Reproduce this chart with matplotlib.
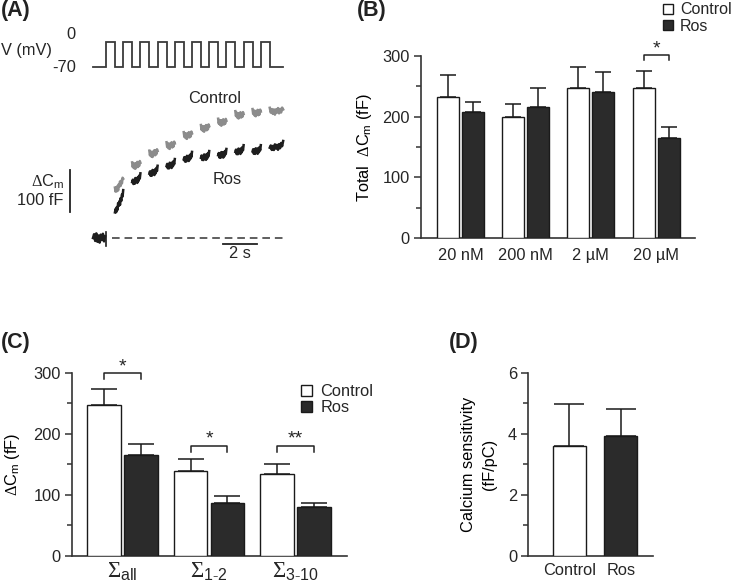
import numpy as np
import matplotlib
matplotlib.use("Agg")
import matplotlib.pyplot as plt
from matplotlib.patches import Patch

plt.rcParams['font.family'] = ['Liberation Sans', 'DejaVu Sans']
plt.rcParams['mathtext.fontset'] = 'custom'
plt.rcParams['mathtext.rm'] = 'Liberation Serif'
plt.rcParams['mathtext.it'] = 'Liberation Serif:italic'
plt.rcParams['mathtext.bf'] = 'Liberation Serif:bold'
plt.rcParams['mathtext.sf'] = 'Liberation Sans'
TXT = '#262626'
plt.rcParams['text.color'] = TXT
plt.rcParams['axes.edgecolor'] = '#333333'
plt.rcParams['xtick.color'] = '#333333'
plt.rcParams['ytick.color'] = '#333333'
plt.rcParams['xtick.labelcolor'] = TXT
plt.rcParams['ytick.labelcolor'] = TXT

# ---------------- data ----------------
# Panel A: example traces
pulse_rise = [0, 1, 2, 3, 4, 5, 6, 7, 8, 9]          # s
pulse_width = 0.52                                   # s
v_rest, v_step = -70, 0                              # mV
ctrl_start = [108, 168, 196, 216, 240, 257, 272, 290, 295, 298]   # fF
ctrl_end = [140, 178, 206, 224, 248, 265, 278, 294, 300, 305]
ros_start = [60, 132, 152, 170, 186, 190, 196, 204, 205, 214]
ros_end = [102, 142, 160, 176, 193, 195, 200, 209, 209, 219]
seg_wiggle = [12, 0, 8, -4, 6, -7, 5, -3, 7, -6, 4, -5, 6, 1]
pre_v = [0, 9, -7, 11, -9, 6, -11, 8, -5, 10, -8, 4]

# Panel B
conc = ['20 nM', '200 nM', '2 µM', '20 µM']
b_ctrl = [233, 199, 248, 248]
b_ctrl_err = [36, 22, 34, 27]
b_ros = [208, 216, 241, 165]
b_ros_err = [16, 32, 32, 18]

# Panel C
c_labels = [r'$\Sigma_{\mathsf{all}}$', r'$\Sigma_{\mathsf{1\text{-}2}}$', r'$\Sigma_{\mathsf{3\text{-}10}}$']
c_ctrl = [247, 139, 134]
c_ctrl_err = [26, 20, 17]
c_ros = [165, 87, 80]
c_ros_err = [18, 11, 7]

# Panel D
d_labels = ['Control', 'Ros']
d_vals = [3.6, 3.94]
d_err = [1.36, 0.88]

# ---------------- figure ----------------
W, H = 733, 588
fig = plt.figure(figsize=(W / 100, H / 100), dpi=100)


def ax_px(x0, y0, x1, y1):
    return fig.add_axes([x0 / W, 1 - y1 / H, (x1 - x0) / W, (y1 - y0) / H])


def ptxt(x, y, s, **kw):
    fig.text(x / W, 1 - y / H, s, **kw)


CTRL_FC, ROS_FC = 'white', '#2b2b2b'
EDGE = '#1a1a1a'
FS = 11.8
DCM = r'$\Delta\mathsf{C}_{\mathsf{m}}$'

# ---------- Panel A ----------
px_per_s = 17.2
t0px = 106
axV = ax_px(0, 30, 290, 75)
axV.set_xlim((0 - t0px) / px_per_s, (290 - t0px) / px_per_s)
mv_per_px = 70 / 25
axV.set_ylim(-70 - (75 - 67) * mv_per_px, 0 + (42 - 30) * mv_per_px)
axV.axis('off')
tv = [(93 - t0px) / px_per_s]
vv = [v_rest]
for r in pulse_rise:
    tv += [r, r, r + pulse_width, r + pulse_width]
    vv += [v_rest, v_step, v_step, v_rest]
tv.append((283 - t0px) / px_per_s)
vv.append(v_rest)
axV.plot(tv, vv, color='#3a3a3a', lw=1.3, solid_joinstyle='miter')
axV.text(-1.75, 20, '0', ha='right', va='center', fontsize=FS)
axV.text(-1.75, -70, '-70', ha='right', va='center', fontsize=FS)
axV.text(-6.1, -24, 'V (mV)', ha='left', va='center', fontsize=FS)

axC = ax_px(0, 95, 290, 250)
axC.set_xlim((0 - t0px) / px_per_s, (290 - t0px) / px_per_s)
fF_per_px = 100 / 42
axC.set_ylim(-(250 - 238) * fF_per_px, (238 - 95) * fF_per_px)
axC.axis('off')
nseg = len(seg_wiggle)
for k in range(len(pulse_rise)):
    ts = pulse_rise[k] + pulse_width
    te = (pulse_rise[k + 1] if k + 1 < len(pulse_rise) else pulse_rise[k] + 1.3)
    tt = np.linspace(ts, te, nseg)
    frac = np.linspace(0, 1, nseg)
    yc = ctrl_start[k] + (ctrl_end[k] - ctrl_start[k]) * frac + np.array(seg_wiggle)
    yr = ros_start[k] + (ros_end[k] - ros_start[k]) * frac + np.array(seg_wiggle[::-1])
    axC.plot(tt, yc, color='#8c8c8c', lw=1.8)
    axC.plot(tt, yr, color='#1e1e1e', lw=1.8)
tpre = np.linspace((93 - t0px) / px_per_s, -0.05, len(pre_v))
axC.plot(tpre, pre_v, color='#1e1e1e', lw=1.8)
axC.plot([0, 0], [-18, 14], color='#1e1e1e', lw=1.2)
axC.plot([(112 - t0px) / px_per_s, (286 - t0px) / px_per_s], [0, 0],
         color='#333333', lw=1.1, dashes=(5, 3.2))
# scale bars
sb_x = (70 - t0px) / px_per_s
axC.plot([sb_x, sb_x], [62, 162], color='#222222', lw=1.3, clip_on=False)
axC.plot([6.8, 8.8], [-15, -15], color='#222222', lw=1.3, clip_on=False)
axC.text(7.8, -18, '2 s', ha='center', va='top', fontsize=FS, clip_on=False)
axC.text(-2.45, 133, DCM, ha='right', va='center', fontsize=FS)
axC.text(-2.45, 90, '100 fF', ha='right', va='center', fontsize=FS)
axC.text(6.34, 331, 'Control', ha='center', va='center', fontsize=FS)
axC.text(7.03, 140, 'Ros', ha='center', va='center', fontsize=FS)


def style_bar_axes(ax, ymax, major, minor):
    ax.spines['top'].set_visible(False)
    ax.spines['right'].set_visible(False)
    for s in ('left', 'bottom'):
        ax.spines[s].set_linewidth(1.2)
    ax.set_ylim(0, ymax)
    ax.set_yticks(major)
    ax.set_yticks(minor, minor=True)
    ax.tick_params(axis='y', which='major', length=5, width=1.1, direction='out', labelsize=FS, pad=3)
    ax.tick_params(axis='y', which='minor', length=3.5, width=1.1, direction='out')
    ax.tick_params(axis='x', length=0, labelsize=FS, pad=7)


def bracket(ax, x0, x1, y_top, y_bot, label, star_y):
    ax.plot([x0, x0, x1, x1], [y_bot, y_top, y_top, y_bot], color='#222222', lw=1.1, clip_on=False)
    ax.text((x0 + x1) / 2, star_y, label, ha='center', va='center', fontsize=14, clip_on=False)


# ---------- Panel B ----------
axB = ax_px(421, 56, 695, 238)
gap = 65.2
xb = np.arange(len(conc))
wb = 22 / gap
ob = 12.5 / gap
axB.set_xlim((421 - 460.5) / gap, (695 - 460.5) / gap)
ek = dict(capsize=6.0, elinewidth=1.1, capthick=1.1, ecolor='#1a1a1a')
axB.bar(xb - ob, b_ctrl, wb, color=CTRL_FC, edgecolor=EDGE, lw=1.0,
        yerr=[np.zeros(4), b_ctrl_err], error_kw=ek, zorder=3)
axB.bar(xb + ob, b_ros, wb, color=ROS_FC, edgecolor=EDGE, lw=1.0,
        yerr=[np.zeros(4), b_ros_err], error_kw=ek, zorder=3)
style_bar_axes(axB, 300, [0, 100, 200, 300], [50, 150, 250])
axB.set_xticks(xb)
axB.set_xticklabels(conc)
axB.set_ylabel(r'Total  ' + DCM + ' (fF)', fontsize=FS, labelpad=6)
bracket(axB, 3 - ob, 3 + ob, 301.5, 293, '*', 312)
axB.legend(handles=[Patch(facecolor=CTRL_FC, edgecolor=EDGE, lw=1.0, label='Control'),
                    Patch(facecolor=ROS_FC, edgecolor=EDGE, lw=1.0, label='Ros')],
           loc='upper left', bbox_to_anchor=(661 / W, 1 - 0 / H), bbox_transform=fig.transFigure,
           frameon=False, fontsize=FS - 0.3, handlelength=0.6, handleheight=0.6,
           handletextpad=0.45, labelspacing=0.08, borderpad=0.15, borderaxespad=0)

# ---------- Panel C ----------
axCC = ax_px(72, 372.7, 347, 556)
gc = 86.5
xc = np.arange(3)
wc = 33.5 / gc
oc = 18.4 / gc
axCC.set_xlim((72 - 122.5) / gc, (347 - 122.5) / gc)
ekc = dict(capsize=9.5, elinewidth=1.1, capthick=1.1, ecolor='#1a1a1a')
axCC.bar(xc - oc, c_ctrl, wc, color=CTRL_FC, edgecolor=EDGE, lw=1.0,
         yerr=[np.zeros(3), c_ctrl_err], error_kw=ekc, zorder=3)
axCC.bar(xc + oc, c_ros, wc, color=ROS_FC, edgecolor=EDGE, lw=1.0,
         yerr=[np.zeros(3), c_ros_err], error_kw=ekc, zorder=3)
style_bar_axes(axCC, 300, [0, 100, 200, 300], [50, 150, 250])
axCC.set_xticks(xc)
axCC.set_xticklabels(c_labels)
for lab in axCC.get_xticklabels():
    lab.set_fontsize(16.5)
axCC.tick_params(axis='x', pad=3)
axCC.set_ylabel(DCM + ' (fF)', fontsize=FS, labelpad=8)
bracket(axCC, 0 - oc, 0 + oc, 300, 289, '*', 310)
bracket(axCC, 1 - oc, 1 + oc, 180.5, 170, '*', 191)
bracket(axCC, 2 - oc, 2 + oc, 180.5, 170, '**', 191)
axCC.legend(handles=[Patch(facecolor=CTRL_FC, edgecolor=EDGE, lw=1.0, label='Control'),
                     Patch(facecolor=ROS_FC, edgecolor=EDGE, lw=1.0, label='Ros')],
            loc='upper left', bbox_to_anchor=(299 / W, 1 - 382 / H), bbox_transform=fig.transFigure,
            frameon=False, fontsize=FS, handlelength=0.65, handleheight=0.65,
            handletextpad=0.5, labelspacing=0.05, borderpad=0.15, borderaxespad=0)

# ---------- Panel D ----------
axD = ax_px(528.3, 372.7, 652.7, 556)
gd = 51.5
xd = np.arange(2)
wd = 33 / gd
axD.set_xlim((528.3 - 569.3) / gd, (652.7 - 569.3) / gd)
ekd = dict(capsize=10.5, elinewidth=1.1, capthick=1.1, ecolor='#1a1a1a')
axD.bar(xd, d_vals, wd, color=[CTRL_FC, ROS_FC], edgecolor=EDGE, lw=1.0,
        yerr=[np.zeros(2), d_err], error_kw=ekd, zorder=3)
style_bar_axes(axD, 6, [0, 2, 4, 6], [1, 3, 5])
axD.set_xticks(xd)
axD.set_xticklabels(d_labels)
axD.tick_params(axis='x', pad=5)
axD.set_ylabel('Calcium sensitivity\n(fF/pC)', fontsize=FS, labelpad=8, linespacing=1.5)

# panel letters
for x, y, s in [(1, 0, '(A)'), (357, 0, '(B)'), (1, 332, '(C)'), (449, 332, '(D)')]:
    ptxt(x, y, s, fontsize=15.5, fontweight='bold', va='top', ha='left', color='#222222')

fig.savefig('out.png', dpi=100)
